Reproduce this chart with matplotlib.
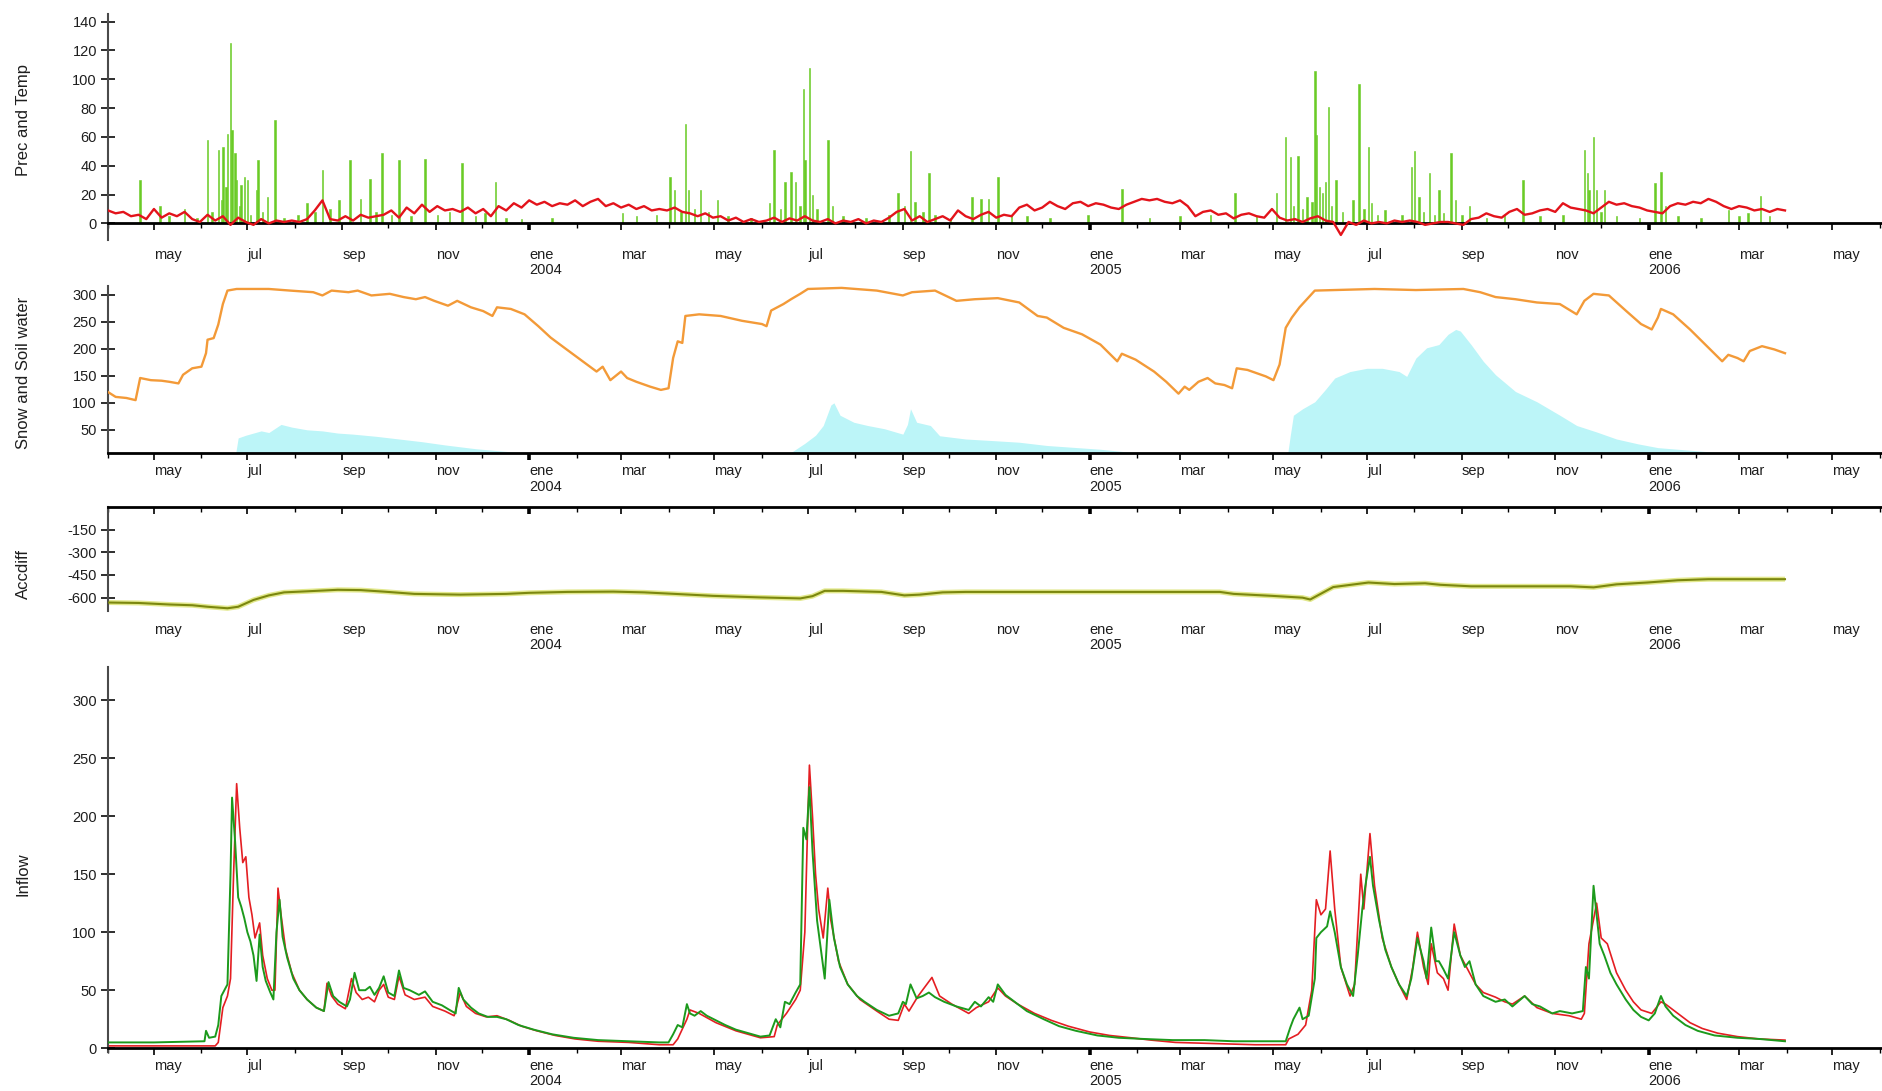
import numpy as np
import matplotlib
matplotlib.use("Agg")
import matplotlib.pyplot as plt
import matplotlib.dates as mdates
from matplotlib.ticker import FuncFormatter

plt.rcParams['font.family'] = ['Liberation Sans', 'DejaVu Sans']
plt.rcParams['axes.unicode_minus'] = False

# ---------------- DATA (day offsets from 2003-04-01) ----------------
MESES = ['ene', 'feb', 'mar', 'abr', 'may', 'jun', 'jul', 'ago', 'sep', 'oct', 'nov', 'dic']

# daily precipitation spikes (day, mm)
precip = [(21,30),(34,12),(40,5),(50,10),(58,4),(65,58),(68,8),(72,51),(74,16),(75,53),(77,25),(78,62),
          (80,125),(81,65),(83,49),(84,30),(86,12),(87,27),(89,32),(91,30),(93,6),(97,23),(98,44),(101,8),
          (104,18),(109,72),(115,4),(124,6),(130,14),(135,8),(140,37),(145,10),(151,16),(158,44),(165,17),
          (171,31),(175,8),(179,49),(185,6),(190,44),(198,5),(207,45),(215,6),(223,8),(231,42),(240,5),
          (246,7),(253,29),(260,4),(270,3),(290,4),(336,7),(345,5),(358,6),(367,32),(370,23),(374,8),
          (377,69),(379,23),(383,10),(387,23),(392,8),(398,16),(405,5),(420,4),(432,14),(435,51),(439,10),
          (442,29),(446,36),(449,29),(452,12),(454,93),(455,44),(458,108),(460,20),(463,10),(470,58),
          (473,12),(480,5),(495,4),(510,6),(516,21),(520,12),(524,50),(527,15),(532,8),(536,35),(540,6),
          (550,4),(564,18),(570,17),(575,17),(581,32),(590,6),(600,5),(615,4),(640,6),(662,24),(680,4),
          (700,5),(720,6),(736,21),(750,5),(763,21),(769,60),(772,46),(774,12),(777,47),(780,10),(783,18),
          (786,15),(788,106),(789,61),(791,25),(793,21),(795,29),(797,81),(799,12),(802,30),(806,8),
          (813,16),(817,97),(820,10),(823,53),(825,14),(829,6),(834,9),(845,6),(851,39),(853,50),(856,18),
          (859,8),(863,35),(866,6),(869,23),(872,7),(877,49),(880,16),(884,6),(889,12),(900,4),(912,6),
          (924,30),(935,5),(950,6),(964,51),(966,35),(967,23),(970,60),(972,23),(975,8),(977,23),(985,5),
          (1000,4),(1010,28),(1014,36),(1017,12),(1025,5),(1040,4),(1058,9),(1065,5),(1071,7),(1079,19),
          (1085,5)]

# temperature, one value every 5 days from day 0
temperature = [9,7,8,5,6,3,10,4,7,5,
               8,3,1,6,2,5,-1,4,1,-1,
               3,0,2,1,2,1,3,9,16,3,
               2,5,2,6,4,5,6,9,4,11,
               7,13,8,12,9,10,8,11,7,10,
               5,12,9,14,11,16,13,15,12,14,
               13,16,12,15,17,12,14,11,13,10,
               12,9,10,9,11,8,7,5,7,4,
               5,2,4,1,3,1,2,4,1,3.5,
               2,5,2,1,3,0,2,1,3,0,
               2,1,4,8,10,2,5,1,3,5,
               2,9,5,3,6,8,4,6,5,11,
               13,9,11,15,12,10,14,15,12,14,
               13,11,10,13,15,17,16,17,15,14,
               16,12,5,8,9,6,7,3.5,6,7,
               5,4,10,4,2,3,1,3.5,5,2,
               1,-8,1,-1,2,0,1,0,2,1,
               2,1,-1,0,1,1,0,-1,3,4,
               7,5,4,8,10,6,7,9,10,8,
               14,11,10,9,7,11,15,13,14,12,
               11,9,8,7,12,14,13,15,14,17,
               15,12,10,12,11,9,10,8,10,9]
TEMP_STEP = 5

# soil water (day, mm)
soil_water = [(0,120),(5,111),(12,109),(18,105),(21,146),(28,142),(35,141),(40,139),(46,136),(49,152),
              (55,164),(61,167),(64,192),(65,217),(69,220),(72,245),(75,283),(78,308),(84,311),(105,311),
              (119,308),(134,305),(140,299),(146,308),(157,305),(163,308),(172,299),(184,302),(193,296),
              (201,292),(207,296),(213,289),(222,280),(228,289),(237,277),(245,270),(251,261),(254,277),
              (263,274),(272,264),(281,242),(289,221),(298,202),(310,177),(319,158),(323,167),(328,142),
              (335,158),(339,146),(345,139),(354,130),(361,124),(366,127),(369,183),(372,214),(375,211),
              (377,261),(386,264),(400,261),(414,252),(427,246),(430,242),(433,271),(441,283),(446,292),
              (452,302),(457,311),(479,313),(502,308),(519,299),(525,305),(540,308),(554,289),(566,292),
              (581,294),(595,286),(607,261),(613,258),(624,239),(636,227),(648,208),(659,177),(662,191),
              (671,180),(683,158),(691,139),(699,117),(703,130),(706,124),(712,139),(718,146),(723,136),
              (729,133),(734,127),(737,164),(744,161),(756,149),(761,142),(765,171),(769,239),(773,258),
              (778,277),(788,308),(801,309),(827,311),(854,309),(885,311),(896,305),(906,296),(919,292),
              (933,286),(948,283),(959,264),(964,289),(970,302),(980,299),(991,271),(1001,246),(1008,236),
              (1012,258),(1014,274),(1022,264),(1033,236),(1043,208),(1054,177),(1058,189),(1064,183),
              (1068,177),(1072,196),(1080,205),(1088,199),(1095,192)]

# snow water equivalent (day, mm)
snow = [(0,0),(83,0),(85,35),(90,40),(100,48),(105,45),(113,60),(120,55),(130,50),(140,48),(150,44),
        (160,42),(175,38),(190,33),(205,28),(220,22),(240,15),(260,10),(280,5),(300,2),(310,0),
        (440,0),(447,10),(455,25),(462,40),(467,58),(472,96),(474,100),(478,77),(487,64),(496,58),
        (507,52),(519,42),(522,60),(524,89),(528,64),(537,58),(543,39),(560,33),(578,30),(595,27),
        (613,21),(633,17),(648,14),(662,10),(680,5),(700,0),(770,0),(772,40),(774,77),(780,89),
        (788,102),(795,125),(801,146),(811,158),(822,164),(832,164),(843,158),(848,149),(854,183),
        (861,202),(869,208),(875,227),(880,236),(883,233),(890,208),(898,177),(906,152),(919,121),
        (933,102),(948,77),(959,58),(972,46),(985,33),(999,24),(1012,17),(1038,11),(1064,5),(1095,3)]

# accumulated difference (day, value)
accdiff = [(0,-632),(20,-635),(40,-645),(55,-650),(65,-660),(78,-670),(85,-660),(95,-615),(105,-585),
           (115,-565),(130,-558),(150,-548),(165,-550),(180,-560),(200,-575),(230,-580),(260,-575),
           (275,-568),(300,-562),(330,-560),(350,-565),(370,-575),(395,-588),(425,-598),(452,-605),
           (460,-590),(468,-555),(480,-555),(505,-562),(520,-585),(530,-580),(545,-565),(560,-562),
           (600,-562),(650,-562),(700,-562),(726,-562),(735,-575),(760,-588),(780,-600),(785,-612),
           (800,-530),(823,-500),(840,-510),(860,-505),(870,-515),(890,-525),(955,-525),(970,-532),
           (985,-512),(1005,-500),(1025,-485),(1045,-478),(1095,-478)]

# inflow, green series (day, m3/s)
inflow_green = [(0,5),(30,5),(63,6),(64,15),(66,9),(70,10),(72,20),(74,45),(76,50),(78,55),(80,150),
                (81,216),(83,178),(85,130),(87,122),(89,112),(91,100),(93,92),(95,80),(97,58),(99,98),
                (101,70),(103,58),(106,48),(108,42),(110,100),(112,128),(114,96),(117,78),(121,60),
                (125,50),(130,42),(136,35),(141,32),(144,57),(147,45),(151,40),(156,36),(158,42),
                (161,65),(164,50),(168,50),(171,53),(174,46),(177,52),(180,62),(183,48),(187,45),
                (190,67),(193,52),(197,50),(203,46),(207,49),(212,40),(218,37),(223,33),(227,30),
                (229,52),(232,42),(237,35),(242,30),(248,27),(254,27),(260,25),(268,20),(278,16),
                (290,12),(304,9),(320,7),(340,6),(360,5),(366,5),(369,12),(372,20),(375,18),(378,38),
                (380,30),(383,28),(387,32),(391,28),(397,24),(403,20),(410,16),(418,13),(426,10),
                (432,11),(436,25),(439,18),(442,40),(445,38),(449,48),(452,55),(454,190),(456,180),
                (458,225),(460,170),(463,110),(466,80),(468,60),(471,128),(474,95),(478,70),(483,55),
                (489,45),(494,40),(502,33),(510,28),(516,30),(519,40),(521,38),(524,55),(528,43),
                (532,45),(536,48),(540,44),(546,40),(554,36),(562,33),(566,40),(570,36),(575,44),
                (578,40),(581,55),(586,46),(592,40),(600,32),(611,25),(621,19),(632,15),(646,11),
                (660,9),(676,8),(695,7),(716,7),(735,6),(750,6),(769,6),(772,18),(774,25),(778,35),
                (780,25),(784,28),(788,60),(789,95),(792,100),(796,105),(798,118),(801,100),(805,70),
                (809,55),(813,45),(816,80),(819,120),(821,140),(824,165),(826,140),(830,110),(834,85),
                (838,70),(843,55),(848,45),(851,60),(855,95),(859,75),(861,60),(864,104),(867,75),
                (869,75),(872,68),(875,60),(879,100),(883,80),(886,70),(889,75),(893,55),(898,45),
                (906,40),(912,42),(917,36),(925,45),(930,38),(935,36),(943,30),(948,32),(956,30),
                (963,32),(965,70),(967,60),(970,140),(974,90),(977,80),(981,65),(985,55),(991,42),
                (996,33),(1001,27),(1006,24),(1010,30),(1014,45),(1017,36),(1022,28),(1030,20),
                (1038,15),(1049,11),(1064,9),(1078,8),(1095,6)]

# inflow, red series (day, m3/s)
inflow_red = [(0,2),(60,2),(70,2),(72,5),(75,35),(78,45),(80,60),(82,150),(84,228),(86,190),(88,160),
              (90,165),(92,130),(94,115),(96,95),(99,108),(101,80),(104,60),(107,50),(109,50),(111,138),
              (113,115),(116,85),(120,65),(125,50),(130,42),(136,35),(141,32),(143,56),(146,45),(150,38),
              (155,34),(159,60),(162,48),(166,42),(170,44),(174,40),(177,50),(180,55),(183,44),(187,42),
              (190,62),(194,46),(200,42),(207,44),(212,36),(220,32),(226,28),(230,48),(234,36),(240,30),
              (247,27),(254,28),(262,24),(270,19),(280,15),(292,11),(305,8),(320,6),(340,5),(360,3),
              (369,3),(372,8),(378,25),(380,33),(386,30),(397,22),(410,15),(426,9),(435,10),(437,20),
              (443,30),(449,42),(452,50),(455,100),(457,200),(458,244),(460,200),(462,150),(464,120),
              (467,95),(470,138),(472,110),(477,75),(483,55),(491,42),(502,32),(510,25),(516,24),
              (520,38),(523,32),(529,45),(538,61),(543,45),(551,38),(562,30),(567,35),(575,40),
              (581,52),(586,45),(594,38),(605,30),(616,24),(627,19),(641,14),(654,11),(668,9),(681,7),
              (697,5),(722,4),(749,3),(769,3),(771,8),(777,12),(782,20),(786,50),(789,128),(792,115),
              (795,120),(798,170),(801,120),(805,70),(811,45),(814,55),(818,150),(820,120),(824,185),
              (827,140),(832,95),(838,70),(843,55),(848,42),(852,70),(855,100),(859,70),(862,55),
              (864,90),(868,65),(872,60),(875,50),(879,107),(883,80),(889,65),(893,55),(898,48),
              (906,44),(912,40),(917,38),(925,45),(933,35),(943,30),(954,28),(962,25),(964,30),
              (967,90),(972,125),(975,95),(979,90),(985,65),(991,50),(996,40),(1001,33),(1008,30),
              (1014,40),(1017,38),(1025,30),(1033,22),(1041,17),(1051,13),(1064,10),(1078,8),(1095,7)]

# ---------------- helpers ----------------
START = np.datetime64('2003-04-01T00:00')
X_END_DAY = 1159


def to_dates(days):
    hours = np.round(np.asarray(days, dtype=float) * 24).astype(int)
    return START + hours.astype('timedelta64[h]')


def split(pairs):
    arr = np.array(pairs, dtype=float)
    return to_dates(arr[:, 0]), arr[:, 1]


def month_fmt(x, pos=None):
    d = mdates.num2date(x)
    s = MESES[d.month - 1]
    if d.month == 1:
        s += '\n' + str(d.year)
    return s


W, H = 1883, 1091
fig = plt.figure(figsize=(W / 100, H / 100), dpi=100)
LEFT = 108


def add_axes(top_px, bot_px):
    return fig.add_axes([LEFT / W, 1 - bot_px / H, 1 - LEFT / W, (bot_px - top_px) / H])


ax1 = add_axes(14.4, 240.0)
ax2 = add_axes(286.0, 453.3)
ax3 = add_axes(506.8, 611.3)
ax4 = add_axes(666.5, 1051.7)
axes = [ax1, ax2, ax3, ax4]

TXT = '#1e1e1e'
FS = 10.5
YLAB_X = -0.0434

for ax in axes:
    ax.set_xlim(to_dates([0])[0], to_dates([X_END_DAY])[0])
    ax.xaxis.set_major_locator(mdates.MonthLocator(bymonth=[1, 3, 5, 7, 9, 11]))
    ax.xaxis.set_minor_locator(mdates.MonthLocator(bymonth=[2, 4, 6, 8, 10, 12]))
    ax.xaxis.set_major_formatter(FuncFormatter(month_fmt))
    ax.spines['right'].set_visible(False)
    ax.spines['top'].set_visible(False)
    ax.spines['left'].set_color('#4a4a4a')
    ax.spines['left'].set_linewidth(1.5)
    ax.spines['bottom'].set_color('black')
    ax.spines['bottom'].set_linewidth(2.0)
    ax.tick_params(axis='y', direction='inout', length=10, width=1.3, pad=3,
                   labelsize=FS, colors=TXT)
    ax.tick_params(axis='x', which='major', direction='out', length=5, width=1.2,
                   labelsize=FS, labelcolor=TXT)
    ax.tick_params(axis='x', which='minor', direction='out', length=3.5, width=1.0)
    ax.patch.set_alpha(0)

# ---- panel 1: precipitation + temperature
pd_dates, pd_vals = split(precip)
ax1.bar(pd_dates, pd_vals, width=1.0, color='#6acb26', edgecolor='#6acb26', linewidth=0.4, zorder=2)
t_dates = to_dates(np.arange(len(temperature)) * TEMP_STEP)
ax1.plot(t_dates, temperature, color='#e3131b', lw=1.7, zorder=3)
ax1.set_ylim(-11.5, 145)
ax1.set_yticks(np.arange(0, 141, 20))
ax1.spines['bottom'].set_position(('data', 0))
ax1.tick_params(axis='x', which='major', pad=12.5)
ax1.set_ylabel('Prec and Temp', fontsize=12, color=TXT)
ax1.yaxis.set_label_coords(YLAB_X, 0.53)

# ---- panel 2: snow + soil water
s_dates, s_vals = split(snow)
ax2.fill_between(s_dates, 0, s_vals, color='#bcf5f8', linewidth=0, zorder=1)
w_dates, w_vals = split(soil_water)
ax2.plot(w_dates, w_vals, color='#f39a38', lw=1.7, zorder=3)
ax2.set_ylim(6.5, 316.5)
ax2.set_yticks(np.arange(50, 301, 50))
ax2.tick_params(axis='x', which='major', pad=3)
ax2.set_ylabel('Snow and Soil water', fontsize=12, color=TXT)
ax2.yaxis.set_label_coords(YLAB_X, 0.48)

# ---- panel 3: accumulated difference
a_dates, a_vals = split(accdiff)
ax3.plot(a_dates, a_vals, color='#e2e88c', lw=3.6, solid_capstyle='butt', zorder=2)
ax3.plot(a_dates, a_vals, color='#7b870e', lw=1.5, zorder=3)
ax3.set_ylim(-690, 0)
ax3.set_yticks([-150, -300, -450, -600])
ax3.spines['top'].set_visible(True)
ax3.spines['top'].set_color('black')
ax3.spines['top'].set_linewidth(2.0)
ax3.spines['bottom'].set_visible(False)
ax3.tick_params(axis='x', which='both', direction='in', top=True, bottom=False,
                labeltop=False, labelbottom=True)
ax3.tick_params(axis='x', which='major', pad=8.5, length=5)
ax3.set_ylabel('Accdiff', fontsize=12, color=TXT)
ax3.yaxis.set_label_coords(YLAB_X, 0.36)

# ---- panel 4: inflow
r_dates, r_vals = split(inflow_red)
g_dates, g_vals = split(inflow_green)
ax4.plot(r_dates, r_vals, color='#e41e22', lw=1.2, zorder=2)
ax4.plot(g_dates, g_vals, color='#1c9a1c', lw=1.4, zorder=3)
ax4.set_ylim(-3, 329)
ax4.set_yticks(np.arange(0, 301, 50))
ax4.spines['bottom'].set_position(('data', 0))
ax4.tick_params(axis='x', which='major', pad=2.5)
ax4.set_ylabel('Inflow', fontsize=12, color=TXT)
ax4.yaxis.set_label_coords(YLAB_X, 0.46)

for ax in axes:
    for lab in ax.xaxis.get_majorticklabels():
        lab.set_horizontalalignment('left')
        lab.set_multialignment('left')
        lab.set_linespacing(1.1)

fig.canvas.draw()
for ax in axes:
    for t in ax.xaxis.get_major_ticks():
        if mdates.num2date(t.get_loc()).month == 1:
            t.tick1line.set_markeredgewidth(2.6)
            t.tick2line.set_markeredgewidth(2.6)

fig.savefig('out.png', dpi=100, facecolor='white')
